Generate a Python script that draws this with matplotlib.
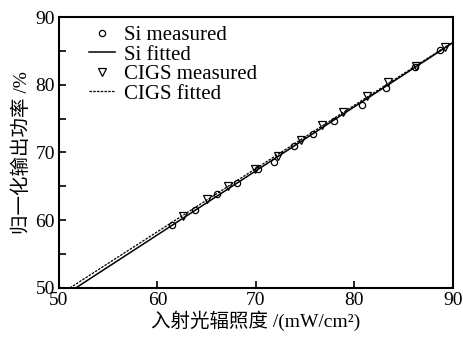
import numpy as np
import matplotlib.pyplot as plt
from matplotlib.ticker import MultipleLocator

plt.rcParams['font.family'] = ['Liberation Serif', 'Noto Sans CJK SC']

# Si data
si_x = [61.5, 63.8, 66.0, 68.1, 70.2, 71.8, 73.9, 75.8, 77.9, 80.8, 83.2, 86.2, 88.7]
si_y = [59.3, 61.5, 63.8, 65.5, 67.5, 68.6, 70.9, 72.7, 74.6, 77.0, 79.5, 82.6, 85.2]
si_fit_x = [51.7, 90.0]
si_fit_y = [50.0, 86.2]

# CIGS data
cigs_x = [62.6, 65.0, 67.2, 69.9, 72.2, 74.6, 76.7, 78.8, 81.3, 83.4, 86.3, 89.2]
cigs_y = [60.6, 63.1, 65.0, 67.6, 69.5, 71.8, 74.1, 76.0, 78.3, 80.4, 82.8, 85.6]
cigs_fit_x = [51.1, 90.0]
cigs_fit_y = [50.0, 86.3]

fig = plt.figure(figsize=(4.63, 3.40), dpi=100)
ax = fig.add_axes([0.1274, 0.153, 0.8506, 0.797])

ax.plot(si_x, si_y, 'o', mfc='none', mec='black', ms=4.5, mew=0.9, label='Si measured')
ax.plot(si_fit_x, si_fit_y, '-', color='black', lw=1.1, label='Si fitted')
ax.plot(cigs_x, cigs_y, 'v', mfc='none', mec='black', ms=5.5, mew=0.9, label='CIGS measured')
ax.plot(cigs_fit_x, cigs_fit_y, '--', color='black', lw=0.9, dashes=(2, 1), label='CIGS fitted')

ax.set_xlim(50, 90)
ax.set_ylim(50, 90)
ax.xaxis.set_major_locator(MultipleLocator(10))
ax.yaxis.set_major_locator(MultipleLocator(10))
ax.yaxis.set_minor_locator(MultipleLocator(5))
ax.tick_params(which='both', direction='in', length=5, width=1.2, labelsize=14,
               top=False, right=False, pad=3)
for s in ax.spines.values():
    s.set_linewidth(1.5)

ax.set_xlabel('入射光辐照度 /(mW/cm²)', fontsize=14, labelpad=1)
ax.set_ylabel('归一化输出功率 /%', fontsize=14, labelpad=3)

ax.legend(loc='upper left', frameon=False, fontsize=15, handlelength=1.25,
          handletextpad=0.45, labelspacing=0.0, borderaxespad=0.0,
          bbox_to_anchor=(0.055, 1.0))

fig.savefig('out.png', dpi=100)
